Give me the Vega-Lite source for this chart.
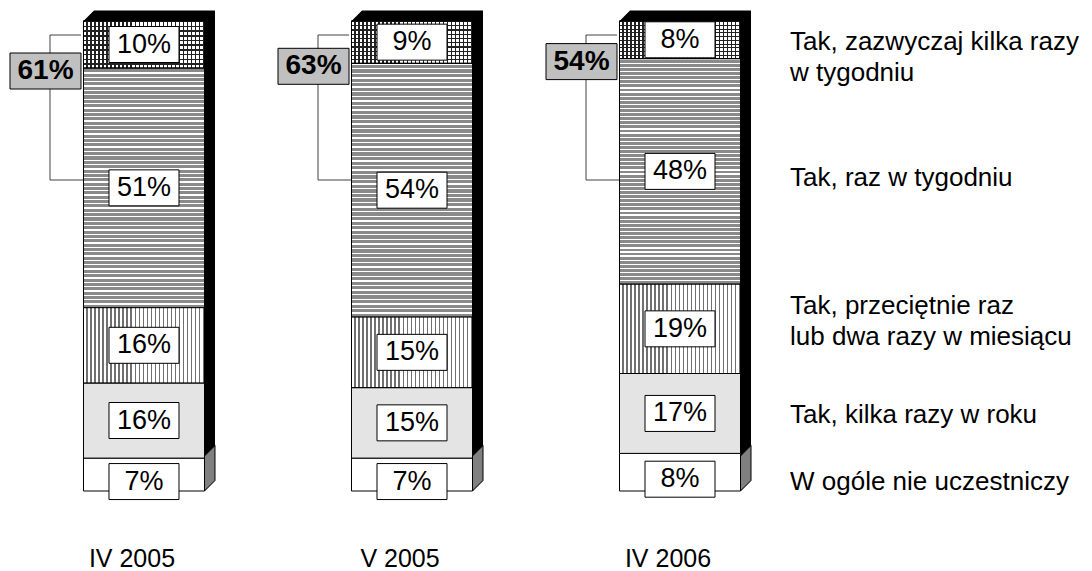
{
  "$schema": "https://vega.github.io/schema/vega-lite/v6.json",
  "width": 824,
  "height": 470,
  "autosize": "none",
  "padding": {"left": 0, "top": 21, "right": 268, "bottom": 80},
  "background": "white",
  "config": {"view": {"stroke": null}, "font": "Liberation Sans", "text": {"font": "Liberation Sans"}},
  "datasets": {
    "seg": [
      {"bar": "IV 2005", "cat": "W ogóle nie uczestniczy", "value": 7},
      {"bar": "IV 2005", "cat": "Tak, kilka razy w roku", "value": 16},
      {"bar": "IV 2005", "cat": "Tak, przeciętnie raz lub dwa razy w miesiącu", "value": 16},
      {"bar": "IV 2005", "cat": "Tak, raz w tygodniu", "value": 51},
      {"bar": "IV 2005", "cat": "Tak, zazwyczaj kilka razy w tygodniu", "value": 10},
      {"bar": "V 2005", "cat": "W ogóle nie uczestniczy", "value": 7},
      {"bar": "V 2005", "cat": "Tak, kilka razy w roku", "value": 15},
      {"bar": "V 2005", "cat": "Tak, przeciętnie raz lub dwa razy w miesiącu", "value": 15},
      {"bar": "V 2005", "cat": "Tak, raz w tygodniu", "value": 54},
      {"bar": "V 2005", "cat": "Tak, zazwyczaj kilka razy w tygodniu", "value": 9},
      {"bar": "IV 2006", "cat": "W ogóle nie uczestniczy", "value": 8},
      {"bar": "IV 2006", "cat": "Tak, kilka razy w roku", "value": 17},
      {"bar": "IV 2006", "cat": "Tak, przeciętnie raz lub dwa razy w miesiącu", "value": 19},
      {"bar": "IV 2006", "cat": "Tak, raz w tygodniu", "value": 48},
      {"bar": "IV 2006", "cat": "Tak, zazwyczaj kilka razy w tygodniu", "value": 8}
    ],
    "tot": [
      {"bar": "IV 2005", "total": 61},
      {"bar": "V 2005", "total": 63},
      {"bar": "IV 2006", "total": 54}
    ]
  },
  "data": {"name": "seg"},
  "transform": [
    {"stack": "value", "groupby": ["bar"], "as": ["y0", "y1"]},
    {"calculate": "(datum.y0 + datum.y1) / 2", "as": "mid"},
    {"calculate": "datum.value + '%'", "as": "pct"},
    {"calculate": "replace(replace(datum.cat, 'razy w tygodniu', 'razy|w tygodniu'), 'raz lub', 'raz|lub')", "as": "lbl"},
    {"lookup": "bar", "from": {"data": {"name": "tot"}, "key": "bar", "fields": ["total"]}},
    {"calculate": "datum.total + '%'", "as": "totpct"}
  ],
  "encoding": {
    "x": {
      "field": "bar",
      "type": "nominal",
      "sort": ["IV 2005", "V 2005", "IV 2006"],
      "scale": {"paddingInner": 0, "paddingOuter": 0.0373},
      "axis": {"title": null, "domain": false, "ticks": false, "tickSize": 0, "grid": false, "labelAngle": 0, "labelFontSize": 25, "labelFont": "Liberation Sans", "labelColor": "black", "labelPadding": 55, "labelOffset": -12}
    }
  },
  "layer": [
    {
      "transform": [{"filter": "datum.cat == 'Tak, zazwyczaj kilka razy w tygodniu'"}],
      "mark": {"type": "point", "shape": "M-60.5,0L-50,-10.5L71,-10.5L71,459.5L60.5,470L60.5,0Z", "size": 4, "filled": true, "color": "black", "opacity": 1, "strokeWidth": 0},
      "encoding": {"y": {"field": "y1", "type": "quantitative", "scale": {"domain": [0, 100], "nice": false, "zero": true}, "axis": null}}
    },
    {
      "transform": [{"filter": "datum.cat == 'W ogóle nie uczestniczy'"}],
      "mark": {"type": "point", "shape": "M60.5,0L60.5,-35L71,-45.5L71,-10.5Z", "size": 4, "filled": true, "color": "#808080", "stroke": "black", "strokeWidth": 1, "opacity": 1},
      "encoding": {"y": {"field": "y0", "type": "quantitative"}}
    },
    {
      "mark": {"type": "bar", "width": 121, "stroke": "black", "strokeWidth": 1, "opacity": 1},
      "encoding": {
        "y": {"field": "y1", "type": "quantitative"},
        "y2": {"field": "y0"},
        "color": {
          "field": "cat",
          "type": "nominal",
          "legend": null,
          "scale": {
            "domain": ["W ogóle nie uczestniczy", "Tak, kilka razy w roku", "Tak, przeciętnie raz lub dwa razy w miesiącu", "Tak, raz w tygodniu", "Tak, zazwyczaj kilka razy w tygodniu"],
            "range": ["#ffffff", "#e4e4e4", "#c8c8c8", "#a4a4a4", "#808080"]
          }
        }
      }
    },
    {
      "transform": [{"filter": "datum.cat == 'Tak, raz w tygodniu'"}],
      "mark": {
        "type": "bar", "width": 121, "stroke": "black", "strokeWidth": 1, "opacity": 1,
        "fill": {"gradient": "linear", "x1": 0, "y1": 0, "x2": 0, "y2": 1, "stops": [
          {"offset": 0, "color": "#fff"}, {"offset": 0.0055, "color": "#fff"}, {"offset": 0.0055, "color": "#8a8a8a"}, {"offset": 0.0182, "color": "#8a8a8a"},
          {"offset": 0.0182, "color": "#fff"}, {"offset": 0.0236, "color": "#fff"}, {"offset": 0.0236, "color": "#8a8a8a"}, {"offset": 0.0364, "color": "#8a8a8a"},
          {"offset": 0.0364, "color": "#fff"}, {"offset": 0.0418, "color": "#fff"}, {"offset": 0.0418, "color": "#8a8a8a"}, {"offset": 0.0545, "color": "#8a8a8a"},
          {"offset": 0.0545, "color": "#fff"}, {"offset": 0.06, "color": "#fff"}, {"offset": 0.06, "color": "#8a8a8a"}, {"offset": 0.0727, "color": "#8a8a8a"},
          {"offset": 0.0727, "color": "#fff"}, {"offset": 0.0782, "color": "#fff"}, {"offset": 0.0782, "color": "#8a8a8a"}, {"offset": 0.0909, "color": "#8a8a8a"},
          {"offset": 0.0909, "color": "#fff"}, {"offset": 0.0964, "color": "#fff"}, {"offset": 0.0964, "color": "#8a8a8a"}, {"offset": 0.1091, "color": "#8a8a8a"},
          {"offset": 0.1091, "color": "#fff"}, {"offset": 0.1145, "color": "#fff"}, {"offset": 0.1145, "color": "#8a8a8a"}, {"offset": 0.1273, "color": "#8a8a8a"},
          {"offset": 0.1273, "color": "#fff"}, {"offset": 0.1327, "color": "#fff"}, {"offset": 0.1327, "color": "#8a8a8a"}, {"offset": 0.1455, "color": "#8a8a8a"},
          {"offset": 0.1455, "color": "#fff"}, {"offset": 0.1509, "color": "#fff"}, {"offset": 0.1509, "color": "#8a8a8a"}, {"offset": 0.1636, "color": "#8a8a8a"},
          {"offset": 0.1636, "color": "#fff"}, {"offset": 0.1691, "color": "#fff"}, {"offset": 0.1691, "color": "#8a8a8a"}, {"offset": 0.1818, "color": "#8a8a8a"},
          {"offset": 0.1818, "color": "#fff"}, {"offset": 0.1873, "color": "#fff"}, {"offset": 0.1873, "color": "#8a8a8a"}, {"offset": 0.2, "color": "#8a8a8a"},
          {"offset": 0.2, "color": "#fff"}, {"offset": 0.2055, "color": "#fff"}, {"offset": 0.2055, "color": "#8a8a8a"}, {"offset": 0.2182, "color": "#8a8a8a"},
          {"offset": 0.2182, "color": "#fff"}, {"offset": 0.2236, "color": "#fff"}, {"offset": 0.2236, "color": "#8a8a8a"}, {"offset": 0.2364, "color": "#8a8a8a"},
          {"offset": 0.2364, "color": "#fff"}, {"offset": 0.2418, "color": "#fff"}, {"offset": 0.2418, "color": "#8a8a8a"}, {"offset": 0.2545, "color": "#8a8a8a"},
          {"offset": 0.2545, "color": "#fff"}, {"offset": 0.26, "color": "#fff"}, {"offset": 0.26, "color": "#8a8a8a"}, {"offset": 0.2727, "color": "#8a8a8a"},
          {"offset": 0.2727, "color": "#fff"}, {"offset": 0.2782, "color": "#fff"}, {"offset": 0.2782, "color": "#8a8a8a"}, {"offset": 0.2909, "color": "#8a8a8a"},
          {"offset": 0.2909, "color": "#fff"}, {"offset": 0.2964, "color": "#fff"}, {"offset": 0.2964, "color": "#8a8a8a"}, {"offset": 0.3091, "color": "#8a8a8a"},
          {"offset": 0.3091, "color": "#fff"}, {"offset": 0.3145, "color": "#fff"}, {"offset": 0.3145, "color": "#8a8a8a"}, {"offset": 0.3273, "color": "#8a8a8a"},
          {"offset": 0.3273, "color": "#fff"}, {"offset": 0.3327, "color": "#fff"}, {"offset": 0.3327, "color": "#8a8a8a"}, {"offset": 0.3455, "color": "#8a8a8a"},
          {"offset": 0.3455, "color": "#fff"}, {"offset": 0.3509, "color": "#fff"}, {"offset": 0.3509, "color": "#8a8a8a"}, {"offset": 0.3636, "color": "#8a8a8a"},
          {"offset": 0.3636, "color": "#fff"}, {"offset": 0.3691, "color": "#fff"}, {"offset": 0.3691, "color": "#8a8a8a"}, {"offset": 0.3818, "color": "#8a8a8a"},
          {"offset": 0.3818, "color": "#fff"}, {"offset": 0.3873, "color": "#fff"}, {"offset": 0.3873, "color": "#8a8a8a"}, {"offset": 0.4, "color": "#8a8a8a"},
          {"offset": 0.4, "color": "#fff"}, {"offset": 0.4055, "color": "#fff"}, {"offset": 0.4055, "color": "#8a8a8a"}, {"offset": 0.4182, "color": "#8a8a8a"},
          {"offset": 0.4182, "color": "#fff"}, {"offset": 0.4236, "color": "#fff"}, {"offset": 0.4236, "color": "#8a8a8a"}, {"offset": 0.4364, "color": "#8a8a8a"},
          {"offset": 0.4364, "color": "#fff"}, {"offset": 0.4418, "color": "#fff"}, {"offset": 0.4418, "color": "#8a8a8a"}, {"offset": 0.4545, "color": "#8a8a8a"},
          {"offset": 0.4545, "color": "#fff"}, {"offset": 0.46, "color": "#fff"}, {"offset": 0.46, "color": "#8a8a8a"}, {"offset": 0.4727, "color": "#8a8a8a"},
          {"offset": 0.4727, "color": "#fff"}, {"offset": 0.4782, "color": "#fff"}, {"offset": 0.4782, "color": "#8a8a8a"}, {"offset": 0.4909, "color": "#8a8a8a"},
          {"offset": 0.4909, "color": "#fff"}, {"offset": 0.4964, "color": "#fff"}, {"offset": 0.4964, "color": "#8a8a8a"}, {"offset": 0.5091, "color": "#8a8a8a"},
          {"offset": 0.5091, "color": "#fff"}, {"offset": 0.5145, "color": "#fff"}, {"offset": 0.5145, "color": "#8a8a8a"}, {"offset": 0.5273, "color": "#8a8a8a"},
          {"offset": 0.5273, "color": "#fff"}, {"offset": 0.5327, "color": "#fff"}, {"offset": 0.5327, "color": "#8a8a8a"}, {"offset": 0.5455, "color": "#8a8a8a"},
          {"offset": 0.5455, "color": "#fff"}, {"offset": 0.5509, "color": "#fff"}, {"offset": 0.5509, "color": "#8a8a8a"}, {"offset": 0.5636, "color": "#8a8a8a"},
          {"offset": 0.5636, "color": "#fff"}, {"offset": 0.5691, "color": "#fff"}, {"offset": 0.5691, "color": "#8a8a8a"}, {"offset": 0.5818, "color": "#8a8a8a"},
          {"offset": 0.5818, "color": "#fff"}, {"offset": 0.5873, "color": "#fff"}, {"offset": 0.5873, "color": "#8a8a8a"}, {"offset": 0.6, "color": "#8a8a8a"},
          {"offset": 0.6, "color": "#fff"}, {"offset": 0.6055, "color": "#fff"}, {"offset": 0.6055, "color": "#8a8a8a"}, {"offset": 0.6182, "color": "#8a8a8a"},
          {"offset": 0.6182, "color": "#fff"}, {"offset": 0.6236, "color": "#fff"}, {"offset": 0.6236, "color": "#8a8a8a"}, {"offset": 0.6364, "color": "#8a8a8a"},
          {"offset": 0.6364, "color": "#fff"}, {"offset": 0.6418, "color": "#fff"}, {"offset": 0.6418, "color": "#8a8a8a"}, {"offset": 0.6545, "color": "#8a8a8a"},
          {"offset": 0.6545, "color": "#fff"}, {"offset": 0.66, "color": "#fff"}, {"offset": 0.66, "color": "#8a8a8a"}, {"offset": 0.6727, "color": "#8a8a8a"},
          {"offset": 0.6727, "color": "#fff"}, {"offset": 0.6782, "color": "#fff"}, {"offset": 0.6782, "color": "#8a8a8a"}, {"offset": 0.6909, "color": "#8a8a8a"},
          {"offset": 0.6909, "color": "#fff"}, {"offset": 0.6964, "color": "#fff"}, {"offset": 0.6964, "color": "#8a8a8a"}, {"offset": 0.7091, "color": "#8a8a8a"},
          {"offset": 0.7091, "color": "#fff"}, {"offset": 0.7145, "color": "#fff"}, {"offset": 0.7145, "color": "#8a8a8a"}, {"offset": 0.7273, "color": "#8a8a8a"},
          {"offset": 0.7273, "color": "#fff"}, {"offset": 0.7327, "color": "#fff"}, {"offset": 0.7327, "color": "#8a8a8a"}, {"offset": 0.7455, "color": "#8a8a8a"},
          {"offset": 0.7455, "color": "#fff"}, {"offset": 0.7509, "color": "#fff"}, {"offset": 0.7509, "color": "#8a8a8a"}, {"offset": 0.7636, "color": "#8a8a8a"},
          {"offset": 0.7636, "color": "#fff"}, {"offset": 0.7691, "color": "#fff"}, {"offset": 0.7691, "color": "#8a8a8a"}, {"offset": 0.7818, "color": "#8a8a8a"},
          {"offset": 0.7818, "color": "#fff"}, {"offset": 0.7873, "color": "#fff"}, {"offset": 0.7873, "color": "#8a8a8a"}, {"offset": 0.8, "color": "#8a8a8a"},
          {"offset": 0.8, "color": "#fff"}, {"offset": 0.8055, "color": "#fff"}, {"offset": 0.8055, "color": "#8a8a8a"}, {"offset": 0.8182, "color": "#8a8a8a"},
          {"offset": 0.8182, "color": "#fff"}, {"offset": 0.8236, "color": "#fff"}, {"offset": 0.8236, "color": "#8a8a8a"}, {"offset": 0.8364, "color": "#8a8a8a"},
          {"offset": 0.8364, "color": "#fff"}, {"offset": 0.8418, "color": "#fff"}, {"offset": 0.8418, "color": "#8a8a8a"}, {"offset": 0.8545, "color": "#8a8a8a"},
          {"offset": 0.8545, "color": "#fff"}, {"offset": 0.86, "color": "#fff"}, {"offset": 0.86, "color": "#8a8a8a"}, {"offset": 0.8727, "color": "#8a8a8a"},
          {"offset": 0.8727, "color": "#fff"}, {"offset": 0.8782, "color": "#fff"}, {"offset": 0.8782, "color": "#8a8a8a"}, {"offset": 0.8909, "color": "#8a8a8a"},
          {"offset": 0.8909, "color": "#fff"}, {"offset": 0.8964, "color": "#fff"}, {"offset": 0.8964, "color": "#8a8a8a"}, {"offset": 0.9091, "color": "#8a8a8a"},
          {"offset": 0.9091, "color": "#fff"}, {"offset": 0.9145, "color": "#fff"}, {"offset": 0.9145, "color": "#8a8a8a"}, {"offset": 0.9273, "color": "#8a8a8a"},
          {"offset": 0.9273, "color": "#fff"}, {"offset": 0.9327, "color": "#fff"}, {"offset": 0.9327, "color": "#8a8a8a"}, {"offset": 0.9455, "color": "#8a8a8a"},
          {"offset": 0.9455, "color": "#fff"}, {"offset": 0.9509, "color": "#fff"}, {"offset": 0.9509, "color": "#8a8a8a"}, {"offset": 0.9636, "color": "#8a8a8a"},
          {"offset": 0.9636, "color": "#fff"}, {"offset": 0.9691, "color": "#fff"}, {"offset": 0.9691, "color": "#8a8a8a"}, {"offset": 0.9818, "color": "#8a8a8a"},
          {"offset": 0.9818, "color": "#fff"}, {"offset": 0.9873, "color": "#fff"}, {"offset": 0.9873, "color": "#8a8a8a"}, {"offset": 1, "color": "#8a8a8a"}
        ]}
      },
      "encoding": {"y": {"field": "y1", "type": "quantitative"}, "y2": {"field": "y0"}}
    },
    {
      "transform": [{"filter": "datum.cat == 'Tak, przeciętnie raz lub dwa razy w miesiącu'"}],
      "mark": {
        "type": "bar", "width": 121, "stroke": "black", "strokeWidth": 1, "opacity": 1,
        "fill": {"gradient": "linear", "x1": 0, "y1": 0, "x2": 1, "y2": 0, "stops": [
          {"offset": 0, "color": "#ffffff"}, {"offset": 0.0217, "color": "#ffffff"}, {"offset": 0.0217, "color": "#707070"}, {"offset": 0.0333, "color": "#707070"},
          {"offset": 0.0333, "color": "#ffffff"}, {"offset": 0.055, "color": "#ffffff"}, {"offset": 0.055, "color": "#707070"}, {"offset": 0.0667, "color": "#707070"},
          {"offset": 0.0667, "color": "#ffffff"}, {"offset": 0.0883, "color": "#ffffff"}, {"offset": 0.0883, "color": "#707070"}, {"offset": 0.1, "color": "#707070"},
          {"offset": 0.1, "color": "#ffffff"}, {"offset": 0.1217, "color": "#ffffff"}, {"offset": 0.1217, "color": "#707070"}, {"offset": 0.1333, "color": "#707070"},
          {"offset": 0.1333, "color": "#ffffff"}, {"offset": 0.155, "color": "#ffffff"}, {"offset": 0.155, "color": "#707070"}, {"offset": 0.1667, "color": "#707070"},
          {"offset": 0.1667, "color": "#ffffff"}, {"offset": 0.1883, "color": "#ffffff"}, {"offset": 0.1883, "color": "#707070"}, {"offset": 0.2, "color": "#707070"},
          {"offset": 0.2, "color": "#ffffff"}, {"offset": 0.2217, "color": "#ffffff"}, {"offset": 0.2217, "color": "#707070"}, {"offset": 0.2333, "color": "#707070"},
          {"offset": 0.2333, "color": "#ffffff"}, {"offset": 0.255, "color": "#ffffff"}, {"offset": 0.255, "color": "#707070"}, {"offset": 0.2667, "color": "#707070"},
          {"offset": 0.2667, "color": "#ffffff"}, {"offset": 0.2883, "color": "#ffffff"}, {"offset": 0.2883, "color": "#707070"}, {"offset": 0.3, "color": "#707070"},
          {"offset": 0.3, "color": "#ffffff"}, {"offset": 0.3217, "color": "#ffffff"}, {"offset": 0.3217, "color": "#707070"}, {"offset": 0.3333, "color": "#707070"},
          {"offset": 0.3333, "color": "#ffffff"}, {"offset": 0.355, "color": "#ffffff"}, {"offset": 0.355, "color": "#707070"}, {"offset": 0.3667, "color": "#707070"},
          {"offset": 0.3667, "color": "#ffffff"}, {"offset": 0.3883, "color": "#ffffff"}, {"offset": 0.3883, "color": "#707070"}, {"offset": 0.4, "color": "#707070"},
          {"offset": 0.4, "color": "#ffffff"}, {"offset": 0.4217, "color": "#ffffff"}, {"offset": 0.4217, "color": "#707070"}, {"offset": 0.4333, "color": "#707070"},
          {"offset": 0.4333, "color": "#ffffff"}, {"offset": 0.455, "color": "#ffffff"}, {"offset": 0.455, "color": "#707070"}, {"offset": 0.4667, "color": "#707070"},
          {"offset": 0.4667, "color": "#ffffff"}, {"offset": 0.4883, "color": "#ffffff"}, {"offset": 0.4883, "color": "#707070"}, {"offset": 0.5, "color": "#707070"},
          {"offset": 0.5, "color": "#ffffff"}, {"offset": 0.5217, "color": "#ffffff"}, {"offset": 0.5217, "color": "#707070"}, {"offset": 0.5333, "color": "#707070"},
          {"offset": 0.5333, "color": "#ffffff"}, {"offset": 0.555, "color": "#ffffff"}, {"offset": 0.555, "color": "#707070"}, {"offset": 0.5667, "color": "#707070"},
          {"offset": 0.5667, "color": "#ffffff"}, {"offset": 0.5883, "color": "#ffffff"}, {"offset": 0.5883, "color": "#707070"}, {"offset": 0.6, "color": "#707070"},
          {"offset": 0.6, "color": "#ffffff"}, {"offset": 0.6217, "color": "#ffffff"}, {"offset": 0.6217, "color": "#707070"}, {"offset": 0.6333, "color": "#707070"},
          {"offset": 0.6333, "color": "#ffffff"}, {"offset": 0.655, "color": "#ffffff"}, {"offset": 0.655, "color": "#707070"}, {"offset": 0.6667, "color": "#707070"},
          {"offset": 0.6667, "color": "#ffffff"}, {"offset": 0.6883, "color": "#ffffff"}, {"offset": 0.6883, "color": "#707070"}, {"offset": 0.7, "color": "#707070"},
          {"offset": 0.7, "color": "#ffffff"}, {"offset": 0.7217, "color": "#ffffff"}, {"offset": 0.7217, "color": "#707070"}, {"offset": 0.7333, "color": "#707070"},
          {"offset": 0.7333, "color": "#ffffff"}, {"offset": 0.755, "color": "#ffffff"}, {"offset": 0.755, "color": "#707070"}, {"offset": 0.7667, "color": "#707070"},
          {"offset": 0.7667, "color": "#ffffff"}, {"offset": 0.7883, "color": "#ffffff"}, {"offset": 0.7883, "color": "#707070"}, {"offset": 0.8, "color": "#707070"},
          {"offset": 0.8, "color": "#ffffff"}, {"offset": 0.8217, "color": "#ffffff"}, {"offset": 0.8217, "color": "#707070"}, {"offset": 0.8333, "color": "#707070"},
          {"offset": 0.8333, "color": "#ffffff"}, {"offset": 0.855, "color": "#ffffff"}, {"offset": 0.855, "color": "#707070"}, {"offset": 0.8667, "color": "#707070"},
          {"offset": 0.8667, "color": "#ffffff"}, {"offset": 0.8883, "color": "#ffffff"}, {"offset": 0.8883, "color": "#707070"}, {"offset": 0.9, "color": "#707070"},
          {"offset": 0.9, "color": "#ffffff"}, {"offset": 0.9217, "color": "#ffffff"}, {"offset": 0.9217, "color": "#707070"}, {"offset": 0.9333, "color": "#707070"},
          {"offset": 0.9333, "color": "#ffffff"}, {"offset": 0.955, "color": "#ffffff"}, {"offset": 0.955, "color": "#707070"}, {"offset": 0.9667, "color": "#707070"},
          {"offset": 0.9667, "color": "#ffffff"}, {"offset": 0.9883, "color": "#ffffff"}, {"offset": 0.9883, "color": "#707070"}, {"offset": 1, "color": "#707070"}
        ]}
      },
      "encoding": {"y": {"field": "y1", "type": "quantitative"}, "y2": {"field": "y0"}}
    },
    {
      "transform": [{"filter": "datum.cat == 'Tak, zazwyczaj kilka razy w tygodniu'"}],
      "mark": {
        "type": "bar", "width": 121, "stroke": "black", "strokeWidth": 1, "opacity": 1,
        "fill": {"gradient": "linear", "x1": 0, "y1": 0, "x2": 1, "y2": 0, "stops": [
          {"offset": 0, "color": "#ffffff"}, {"offset": 0.0217, "color": "#ffffff"}, {"offset": 0.0217, "color": "#222222"}, {"offset": 0.0333, "color": "#222222"},
          {"offset": 0.0333, "color": "#ffffff"}, {"offset": 0.055, "color": "#ffffff"}, {"offset": 0.055, "color": "#222222"}, {"offset": 0.0667, "color": "#222222"},
          {"offset": 0.0667, "color": "#ffffff"}, {"offset": 0.0883, "color": "#ffffff"}, {"offset": 0.0883, "color": "#222222"}, {"offset": 0.1, "color": "#222222"},
          {"offset": 0.1, "color": "#ffffff"}, {"offset": 0.1217, "color": "#ffffff"}, {"offset": 0.1217, "color": "#222222"}, {"offset": 0.1333, "color": "#222222"},
          {"offset": 0.1333, "color": "#ffffff"}, {"offset": 0.155, "color": "#ffffff"}, {"offset": 0.155, "color": "#222222"}, {"offset": 0.1667, "color": "#222222"},
          {"offset": 0.1667, "color": "#ffffff"}, {"offset": 0.1883, "color": "#ffffff"}, {"offset": 0.1883, "color": "#222222"}, {"offset": 0.2, "color": "#222222"},
          {"offset": 0.2, "color": "#ffffff"}, {"offset": 0.2217, "color": "#ffffff"}, {"offset": 0.2217, "color": "#222222"}, {"offset": 0.2333, "color": "#222222"},
          {"offset": 0.2333, "color": "#ffffff"}, {"offset": 0.255, "color": "#ffffff"}, {"offset": 0.255, "color": "#222222"}, {"offset": 0.2667, "color": "#222222"},
          {"offset": 0.2667, "color": "#ffffff"}, {"offset": 0.2883, "color": "#ffffff"}, {"offset": 0.2883, "color": "#222222"}, {"offset": 0.3, "color": "#222222"},
          {"offset": 0.3, "color": "#ffffff"}, {"offset": 0.3217, "color": "#ffffff"}, {"offset": 0.3217, "color": "#222222"}, {"offset": 0.3333, "color": "#222222"},
          {"offset": 0.3333, "color": "#ffffff"}, {"offset": 0.355, "color": "#ffffff"}, {"offset": 0.355, "color": "#222222"}, {"offset": 0.3667, "color": "#222222"},
          {"offset": 0.3667, "color": "#ffffff"}, {"offset": 0.3883, "color": "#ffffff"}, {"offset": 0.3883, "color": "#222222"}, {"offset": 0.4, "color": "#222222"},
          {"offset": 0.4, "color": "#ffffff"}, {"offset": 0.4217, "color": "#ffffff"}, {"offset": 0.4217, "color": "#222222"}, {"offset": 0.4333, "color": "#222222"},
          {"offset": 0.4333, "color": "#ffffff"}, {"offset": 0.455, "color": "#ffffff"}, {"offset": 0.455, "color": "#222222"}, {"offset": 0.4667, "color": "#222222"},
          {"offset": 0.4667, "color": "#ffffff"}, {"offset": 0.4883, "color": "#ffffff"}, {"offset": 0.4883, "color": "#222222"}, {"offset": 0.5, "color": "#222222"},
          {"offset": 0.5, "color": "#ffffff"}, {"offset": 0.5217, "color": "#ffffff"}, {"offset": 0.5217, "color": "#222222"}, {"offset": 0.5333, "color": "#222222"},
          {"offset": 0.5333, "color": "#ffffff"}, {"offset": 0.555, "color": "#ffffff"}, {"offset": 0.555, "color": "#222222"}, {"offset": 0.5667, "color": "#222222"},
          {"offset": 0.5667, "color": "#ffffff"}, {"offset": 0.5883, "color": "#ffffff"}, {"offset": 0.5883, "color": "#222222"}, {"offset": 0.6, "color": "#222222"},
          {"offset": 0.6, "color": "#ffffff"}, {"offset": 0.6217, "color": "#ffffff"}, {"offset": 0.6217, "color": "#222222"}, {"offset": 0.6333, "color": "#222222"},
          {"offset": 0.6333, "color": "#ffffff"}, {"offset": 0.655, "color": "#ffffff"}, {"offset": 0.655, "color": "#222222"}, {"offset": 0.6667, "color": "#222222"},
          {"offset": 0.6667, "color": "#ffffff"}, {"offset": 0.6883, "color": "#ffffff"}, {"offset": 0.6883, "color": "#222222"}, {"offset": 0.7, "color": "#222222"},
          {"offset": 0.7, "color": "#ffffff"}, {"offset": 0.7217, "color": "#ffffff"}, {"offset": 0.7217, "color": "#222222"}, {"offset": 0.7333, "color": "#222222"},
          {"offset": 0.7333, "color": "#ffffff"}, {"offset": 0.755, "color": "#ffffff"}, {"offset": 0.755, "color": "#222222"}, {"offset": 0.7667, "color": "#222222"},
          {"offset": 0.7667, "color": "#ffffff"}, {"offset": 0.7883, "color": "#ffffff"}, {"offset": 0.7883, "color": "#222222"}, {"offset": 0.8, "color": "#222222"},
          {"offset": 0.8, "color": "#ffffff"}, {"offset": 0.8217, "color": "#ffffff"}, {"offset": 0.8217, "color": "#222222"}, {"offset": 0.8333, "color": "#222222"},
          {"offset": 0.8333, "color": "#ffffff"}, {"offset": 0.855, "color": "#ffffff"}, {"offset": 0.855, "color": "#222222"}, {"offset": 0.8667, "color": "#222222"},
          {"offset": 0.8667, "color": "#ffffff"}, {"offset": 0.8883, "color": "#ffffff"}, {"offset": 0.8883, "color": "#222222"}, {"offset": 0.9, "color": "#222222"},
          {"offset": 0.9, "color": "#ffffff"}, {"offset": 0.9217, "color": "#ffffff"}, {"offset": 0.9217, "color": "#222222"}, {"offset": 0.9333, "color": "#222222"},
          {"offset": 0.9333, "color": "#ffffff"}, {"offset": 0.955, "color": "#ffffff"}, {"offset": 0.955, "color": "#222222"}, {"offset": 0.9667, "color": "#222222"},
          {"offset": 0.9667, "color": "#ffffff"}, {"offset": 0.9883, "color": "#ffffff"}, {"offset": 0.9883, "color": "#222222"}, {"offset": 1, "color": "#222222"}
        ]}
      },
      "encoding": {"y": {"field": "y1", "type": "quantitative"}, "y2": {"field": "y0"}}
    },
    {
      "transform": [{"filter": "datum.cat == 'Tak, zazwyczaj kilka razy w tygodniu'"}],
      "mark": {
        "type": "bar", "width": 121, "stroke": "black", "strokeWidth": 1, "opacity": 1,
        "fill": {"gradient": "linear", "x1": 0, "y1": 0, "x2": 0, "y2": 1, "stops": [
          {"offset": 0, "color": "#222222"}, {"offset": 0.03, "color": "#222222"}, {"offset": 0.03, "color": "rgba(0,0,0,0)"}, {"offset": 0.1, "color": "rgba(0,0,0,0)"},
          {"offset": 0.1, "color": "#222222"}, {"offset": 0.13, "color": "#222222"}, {"offset": 0.13, "color": "rgba(0,0,0,0)"}, {"offset": 0.2, "color": "rgba(0,0,0,0)"},
          {"offset": 0.2, "color": "#222222"}, {"offset": 0.23, "color": "#222222"}, {"offset": 0.23, "color": "rgba(0,0,0,0)"}, {"offset": 0.3, "color": "rgba(0,0,0,0)"},
          {"offset": 0.3, "color": "#222222"}, {"offset": 0.33, "color": "#222222"}, {"offset": 0.33, "color": "rgba(0,0,0,0)"}, {"offset": 0.4, "color": "rgba(0,0,0,0)"},
          {"offset": 0.4, "color": "#222222"}, {"offset": 0.43, "color": "#222222"}, {"offset": 0.43, "color": "rgba(0,0,0,0)"}, {"offset": 0.5, "color": "rgba(0,0,0,0)"},
          {"offset": 0.5, "color": "#222222"}, {"offset": 0.53, "color": "#222222"}, {"offset": 0.53, "color": "rgba(0,0,0,0)"}, {"offset": 0.6, "color": "rgba(0,0,0,0)"},
          {"offset": 0.6, "color": "#222222"}, {"offset": 0.63, "color": "#222222"}, {"offset": 0.63, "color": "rgba(0,0,0,0)"}, {"offset": 0.7, "color": "rgba(0,0,0,0)"},
          {"offset": 0.7, "color": "#222222"}, {"offset": 0.73, "color": "#222222"}, {"offset": 0.73, "color": "rgba(0,0,0,0)"}, {"offset": 0.8, "color": "rgba(0,0,0,0)"},
          {"offset": 0.8, "color": "#222222"}, {"offset": 0.83, "color": "#222222"}, {"offset": 0.83, "color": "rgba(0,0,0,0)"}, {"offset": 0.9, "color": "rgba(0,0,0,0)"},
          {"offset": 0.9, "color": "#222222"}, {"offset": 0.93, "color": "#222222"}, {"offset": 0.93, "color": "rgba(0,0,0,0)"}, {"offset": 1, "color": "rgba(0,0,0,0)"}
        ]}
      },
      "encoding": {"y": {"field": "y1", "type": "quantitative"}, "y2": {"field": "y0"}}
    },
    {
      "transform": [{"filter": "datum.cat != 'W ogóle nie uczestniczy'"}],
      "mark": {"type": "point", "shape": "M-35,-18H35V18H-35Z", "size": 4, "filled": true, "color": "white", "stroke": "black", "strokeWidth": 1, "opacity": 1},
      "encoding": {"y": {"field": "mid", "type": "quantitative"}}
    },
    {
      "transform": [{"filter": "datum.cat == 'W ogóle nie uczestniczy'"}],
      "mark": {"type": "point", "shape": "M-35,-18H35V18H-35Z", "size": 4, "filled": true, "color": "white", "stroke": "black", "strokeWidth": 1, "opacity": 1, "yOffset": 7},
      "encoding": {"y": {"field": "mid", "type": "quantitative"}}
    },
    {
      "transform": [{"filter": "datum.cat != 'W ogóle nie uczestniczy'"}],
      "mark": {"type": "text", "fontSize": 27, "font": "Liberation Sans", "color": "black", "align": "center", "baseline": "middle"},
      "encoding": {"y": {"field": "mid", "type": "quantitative"}, "text": {"field": "pct"}}
    },
    {
      "transform": [{"filter": "datum.cat == 'W ogóle nie uczestniczy'"}],
      "mark": {"type": "text", "fontSize": 27, "font": "Liberation Sans", "color": "black", "align": "center", "baseline": "middle", "yOffset": 7},
      "encoding": {"y": {"field": "mid", "type": "quantitative"}, "text": {"field": "pct"}}
    },
    {
      "transform": [{"filter": "datum.cat == 'Tak, zazwyczaj kilka razy w tygodniu'"}],
      "mark": {"type": "point", "shape": "M-63,14H-94V159H-61", "size": 4, "filled": false, "color": "#404040", "fill": "transparent", "strokeWidth": 1, "opacity": 1},
      "encoding": {"y": {"field": "y1", "type": "quantitative"}}
    },
    {
      "transform": [{"filter": "datum.cat == 'Tak, zazwyczaj kilka razy w tygodniu'"}],
      "mark": {"type": "point", "shape": "M-134,-18H-63V18H-134Z", "size": 4, "filled": true, "color": "#c0c0c0", "stroke": "black", "strokeWidth": 1, "opacity": 1, "yOffset": 3},
      "encoding": {"y": {"field": "y0", "type": "quantitative"}}
    },
    {
      "transform": [{"filter": "datum.cat == 'Tak, zazwyczaj kilka razy w tygodniu'"}],
      "mark": {"type": "text", "fontSize": 28, "fontWeight": "bold", "font": "Liberation Sans", "color": "black", "align": "center", "baseline": "middle", "xOffset": -98.5, "yOffset": 3},
      "encoding": {"y": {"field": "y0", "type": "quantitative"}, "text": {"field": "totpct"}}
    },
    {
      "transform": [{"filter": "datum.bar == 'IV 2006' && datum.cat == 'Tak, zazwyczaj kilka razy w tygodniu'"}],
      "mark": {"type": "text", "fontSize": 26, "font": "Liberation Sans", "color": "black", "align": "left", "baseline": "middle", "lineBreak": "|", "lineHeight": 31, "xOffset": 110, "yOffset": 2},
      "encoding": {"y": {"field": "mid", "type": "quantitative"}, "text": {"field": "lbl"}}
    },
    {
      "transform": [{"filter": "datum.bar == 'IV 2006' && datum.cat == 'Tak, raz w tygodniu'"}],
      "mark": {"type": "text", "fontSize": 26, "font": "Liberation Sans", "color": "black", "align": "left", "baseline": "middle", "lineBreak": "|", "lineHeight": 31, "xOffset": 110, "yOffset": 7},
      "encoding": {"y": {"field": "mid", "type": "quantitative"}, "text": {"field": "lbl"}}
    },
    {
      "transform": [{"filter": "datum.bar == 'IV 2006' && datum.cat == 'Tak, przeciętnie raz lub dwa razy w miesiącu'"}],
      "mark": {"type": "text", "fontSize": 26, "font": "Liberation Sans", "color": "black", "align": "left", "baseline": "middle", "lineBreak": "|", "lineHeight": 31, "xOffset": 110, "yOffset": -23},
      "encoding": {"y": {"field": "mid", "type": "quantitative"}, "text": {"field": "lbl"}}
    },
    {
      "transform": [{"filter": "datum.bar == 'IV 2006' && datum.cat == 'Tak, kilka razy w roku'"}],
      "mark": {"type": "text", "fontSize": 26, "font": "Liberation Sans", "color": "black", "align": "left", "baseline": "middle", "lineBreak": "|", "lineHeight": 31, "xOffset": 110, "yOffset": 2},
      "encoding": {"y": {"field": "mid", "type": "quantitative"}, "text": {"field": "lbl"}}
    },
    {
      "transform": [{"filter": "datum.bar == 'IV 2006' && datum.cat == 'W ogóle nie uczestniczy'"}],
      "mark": {"type": "text", "fontSize": 26, "font": "Liberation Sans", "color": "black", "align": "left", "baseline": "middle", "lineBreak": "|", "lineHeight": 31, "xOffset": 110, "yOffset": 10},
      "encoding": {"y": {"field": "mid", "type": "quantitative"}, "text": {"field": "lbl"}}
    }
  ]
}
